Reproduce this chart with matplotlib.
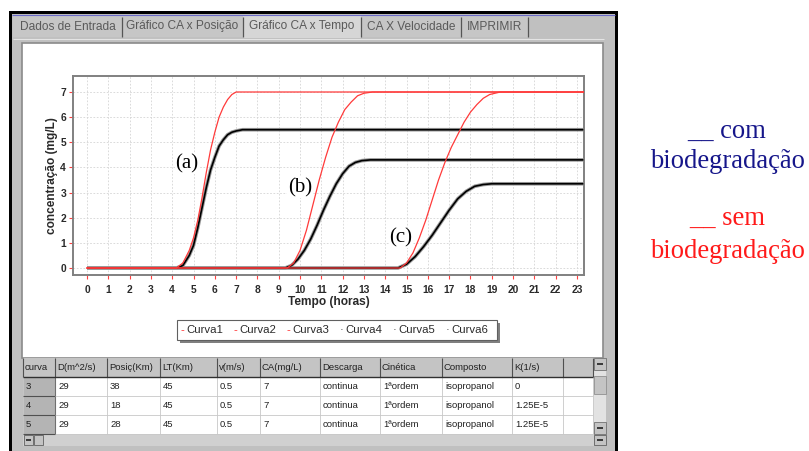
import matplotlib
matplotlib.use('Agg')
import matplotlib.pyplot as plt
from matplotlib.patches import Rectangle

# ---------------- data ----------------
hours = list(range(0, 24))
conc_ticks = list(range(0, 8))

# sem biodegradação (red)
red_a_t = [0, 4.2, 4.5, 4.8, 5.0, 5.2, 5.4, 5.6, 5.8, 6.0, 6.2, 6.4, 6.6, 6.8, 7.0, 23.3]
red_a_c = [0, 0, 0.2, 0.7, 1.2, 1.9, 2.8, 3.8, 4.7, 5.4, 6.0, 6.4, 6.7, 6.9, 7.0, 7.0]
red_b_t = [0, 9.4, 9.7, 10.0, 10.3, 10.6, 10.9, 11.2, 11.5, 11.8, 12.1, 12.4, 12.7, 13.0, 13.4, 23.3]
red_b_c = [0, 0, 0.2, 0.7, 1.5, 2.5, 3.5, 4.4, 5.2, 5.8, 6.3, 6.6, 6.85, 6.95, 7.0, 7.0]
red_c_t = [0, 14.7, 15.0, 15.3, 15.6, 15.9, 16.2, 16.5, 16.8, 17.1, 17.4, 17.7, 18.0, 18.3, 18.6, 18.9, 19.4, 23.3]
red_c_c = [0, 0, 0.2, 0.6, 1.2, 1.9, 2.7, 3.5, 4.2, 4.8, 5.3, 5.8, 6.2, 6.5, 6.75, 6.9, 7.0, 7.0]

# com biodegradação (black)
blk_a_t = [0, 4.2, 4.5, 4.8, 5.0, 5.2, 5.4, 5.6, 5.8, 6.0, 6.2, 6.4, 6.6, 6.8, 7.0, 7.3, 7.6, 23.3]
blk_a_c = [0, 0, 0.1, 0.5, 0.9, 1.6, 2.4, 3.2, 3.9, 4.4, 4.85, 5.1, 5.3, 5.4, 5.45, 5.5, 5.5, 5.5]
blk_b_t = [0, 9.3, 9.6, 9.9, 10.2, 10.5, 10.8, 11.1, 11.4, 11.7, 12.0, 12.3, 12.6, 12.9, 13.3, 23.3]
blk_b_c = [0, 0, 0.1, 0.35, 0.7, 1.15, 1.7, 2.3, 2.85, 3.35, 3.75, 4.05, 4.2, 4.27, 4.3, 4.3]
blk_c_t = [0, 14.6, 15.0, 15.4, 15.8, 16.2, 16.6, 17.0, 17.4, 17.8, 18.2, 18.6, 19.0, 19.5, 23.3]
blk_c_c = [0, 0, 0.15, 0.45, 0.85, 1.3, 1.8, 2.3, 2.75, 3.05, 3.25, 3.32, 3.35, 3.35, 3.35]

curve_labels = ['(a)', '(b)', '(c)']
legend_names = ['Curva1', 'Curva2', 'Curva3', 'Curva4', 'Curva5', 'Curva6']
tab_names = ['Dados de Entrada', 'Gráfico CA x Posição', 'Gráfico CA x Tempo',
             'CA X Velocidade', 'IMPRIMIR']
table_header = ['curva', 'D(m^2/s)', 'Posiç(Km)', 'LT(Km)', 'v(m/s)', 'CA(mg/L)',
                'Descarga', 'Cinética', 'Composto', 'K(1/s)']
table_rows = [
    ['3', '29', '38', '45', '0.5', '7', 'continua', '1ªordem', 'isopropanol', '0'],
    ['4', '29', '18', '45', '0.5', '7', 'continua', '1ªordem', 'isopropanol', '1.25E-5'],
    ['5', '29', '28', '45', '0.5', '7', 'continua', '1ªordem', 'isopropanol', '1.25E-5'],
]

# ---------------- figure ----------------
W, H = 809, 451
fig = plt.figure(figsize=(W / 100, H / 100), dpi=100)
fig.patch.set_facecolor('white')
bg = fig.add_axes([0, 0, 1, 1], zorder=0)
bg.set_xlim(0, W)
bg.set_ylim(H, 0)
bg.axis('off')

SANS = ['Liberation Sans', 'DejaVu Sans']
SERIF = ['Liberation Serif', 'DejaVu Serif']
TXT = '#2a2a2a'


def rect(x0, y0, x1, y1, fc, ec='none', lw=0, z=1):
    bg.add_patch(Rectangle((x0, y0), x1 - x0, y1 - y0, facecolor=fc,
                           edgecolor=ec, linewidth=lw, zorder=z))


def hline(x0, x1, y, c, lw=0.72, z=2):
    bg.plot([x0, x1], [y, y], color=c, lw=lw, zorder=z, solid_capstyle='butt')


def vline(x, y0, y1, c, lw=0.72, z=2):
    bg.plot([x, x], [y0, y1], color=c, lw=lw, zorder=z, solid_capstyle='butt')


# window frame
rect(9, 11, 618, 460, 'black', z=0.5)
rect(12, 14, 615, 460, '#c0c0c0', z=0.6)
hline(12, 615, 14.6, '#6a6ac8', lw=0.8)

# tabs
tab_edges = [13, 122, 243, 361, 461, 528]
rect(13, 16, 528, 37, '#c6c6c6', z=0.7)
rect(243, 15, 361, 38, '#d6d6d6', z=0.8)
for xe in tab_edges[1:]:
    vline(xe, 17, 37, '#555555', lw=0.9)
hline(13, 604, 38.5, '#e4e4e4', lw=0.8)
for i, name in enumerate(tab_names):
    cx = (tab_edges[i] + tab_edges[i + 1]) / 2
    bg.text(cx, 26.5, name, ha='center', va='center', fontsize=8.6,
            color='#5a5a5a', family=SANS, zorder=3)

# white panel
rect(22, 43, 603, 358, 'white', ec='#8a8a8a', lw=1.2, z=0.9)

# table
col_edges = [23, 55, 107, 160, 217, 260, 320, 380, 442, 512, 563, 593]
row_edges = [358, 377, 396, 415, 434]
rect(23, 358, 606, 446, 'white', z=0.95)
rect(23, 358, 593, 377, '#c4c4c4', z=1)
for r in range(3):
    rect(23, row_edges[r + 1], 55, row_edges[r + 2], '#b4b4b4', z=1)
for xe in col_edges:
    vline(xe, 358, 377, '#505050', lw=0.8)
    vline(xe, 377, 434, '#c8c8c8', lw=0.6)
vline(55, 377, 434, '#707070', lw=0.8)
hline(23, 593, 377, '#303030', lw=1.0)
for ye in row_edges[2:]:
    hline(23, 593, ye, '#c8c8c8', lw=0.6)
    hline(23, 55, ye, '#505050', lw=0.8)
for j, txt in enumerate(table_header):
    bg.text(col_edges[j] + 2, 367.5, txt, ha='left', va='center', fontsize=6.8,
            color='#202020', family=SANS, zorder=3)
for r, row in enumerate(table_rows):
    yc = (row_edges[r + 1] + row_edges[r + 2]) / 2
    for j, txt in enumerate(row):
        bg.text(col_edges[j] + 3, yc, txt, ha='left', va='center', fontsize=6.8,
                color='#202020', family=SANS, zorder=3)
# vertical scrollbar
rect(593, 358, 606, 434, '#e2e2e2', z=1)
rect(594, 358, 606, 370, '#c4c4c4', ec='#707070', lw=0.6, z=1.1)
rect(594, 376, 606, 394, '#c4c4c4', ec='#909090', lw=0.6, z=1.1)
rect(594, 422, 606, 434, '#c4c4c4', ec='#707070', lw=0.6, z=1.1)
hline(597, 603, 364, '#202020', lw=1.2, z=3)
hline(597, 603, 428, '#202020', lw=1.2, z=3)
# horizontal scrollbar row
rect(23, 434, 606, 446, '#d0d0d0', z=1)
rect(24, 435, 33, 445, '#c4c4c4', ec='#606060', lw=0.6, z=1.1)
rect(34, 435, 43, 445, '#c4c4c4', ec='#606060', lw=0.6, z=1.1)
rect(594, 435, 606, 445, '#c4c4c4', ec='#606060', lw=0.6, z=1.1)
hline(26, 31, 440, '#202020', lw=1.2, z=3)
hline(597, 603, 440, '#202020', lw=1.2, z=3)

# legend box
rect(180, 323, 500, 343, '#808080', z=1.5)
rect(177, 320, 497, 340, 'white', ec='#606060', lw=0.8, z=1.6)
for i, name in enumerate(legend_names):
    x0 = 181 + i * 53
    if i < 3:
        bg.text(x0, 330, '-', ha='left', va='center', fontsize=8.2,
                color='#ff3030', family=SANS, zorder=3)
    else:
        bg.text(x0, 330, '·', ha='left', va='center', fontsize=8.2,
                color='#303030', family=SANS, zorder=3)
    bg.text(x0 + 5, 330, name, ha='left', va='center', fontsize=8.2,
            color=TXT, family=SANS, zorder=3)

# side legend text
SIDE = 19.2
bg.text(727, 131, '__ com', ha='center', va='center', fontsize=SIDE,
        color='#16168a', family=SERIF)
bg.text(727, 162, 'biodegradação', ha='center', va='center', fontsize=SIDE,
        color='#16168a', family=SERIF)
bg.text(727, 218, '__ sem', ha='center', va='center', fontsize=SIDE,
        color='#ff1a1a', family=SERIF)
bg.text(727, 252, 'biodegradação', ha='center', va='center', fontsize=SIDE,
        color='#ff1a1a', family=SERIF)

# ---------------- chart ----------------
L, R, T, B = 73, 584, 76, 275
ax = fig.add_axes([L / W, 1 - B / H, (R - L) / W, (B - T) / H], zorder=2)
ax.set_facecolor('white')
pxh = (577 - 87) / 23.0
pxu = (268 - 92) / 7.0
ax.set_xlim(-(87 - L) / pxh, 23 + (R - 577) / pxh)
ax.set_ylim(-(B - 268) / pxu, 7 + (92 - T) / pxu)

ax.set_xticks(hours)
ax.set_yticks(conc_ticks)
ax.grid(True, color='#d4d4d4', lw=0.6, ls=(0, (2, 2)))
ax.set_axisbelow(True)
for s in ax.spines.values():
    s.set_color('#808080')
    s.set_linewidth(1.4)
ax.tick_params(axis='both', colors='#ff4040', length=3, width=0.8,
               labelcolor=TXT, labelsize=7.4)
ax.tick_params(axis='x', pad=4)
ax.tick_params(axis='y', pad=2)
for lab in ax.get_xticklabels() + ax.get_yticklabels():
    lab.set_family(SANS)
    lab.set_fontweight('bold')

for t, c in [(blk_a_t, blk_a_c), (blk_b_t, blk_b_c), (blk_c_t, blk_c_c)]:
    ax.plot(t, c, color='#9a9a9a', lw=2.6, zorder=3, solid_capstyle='butt')
    ax.plot(t, c, color='black', lw=1.2, zorder=4, solid_capstyle='butt')
for t, c in [(red_a_t, red_a_c), (red_b_t, red_b_c), (red_c_t, red_c_c)]:
    ax.plot(t, c, color='#ff3a3a', lw=0.9, zorder=5)

label_pos = [(4.68, 4.15), (9.99, 3.2), (14.74, 1.2)]
for lab, (x, y) in zip(curve_labels, label_pos):
    ax.text(x, y, lab, ha='center', va='center', fontsize=15, family=SERIF,
            color='black', zorder=6,
            bbox=dict(facecolor='white', edgecolor='none', pad=0.5))

ax.set_xlabel('Tempo (horas)', fontsize=8.6, family=SANS, color=TXT,
              fontweight='bold', labelpad=1)
ax.set_ylabel('concentração (mg/L)', fontsize=8.6, family=SANS, color=TXT,
              fontweight='bold', labelpad=2)

fig.savefig('out.png', dpi=100, facecolor='white')
